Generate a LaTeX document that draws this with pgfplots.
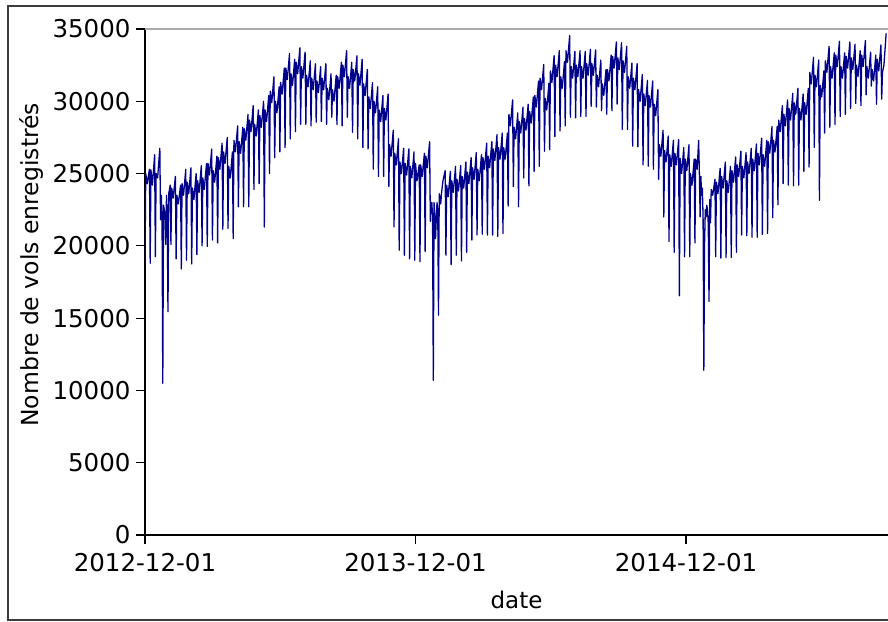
\documentclass[border=0pt]{standalone}
\usepackage{pgfplots}
\pgfplotsset{compat=1.18}
\usepackage{fontspec}
\setmainfont{DejaVu Sans}
\definecolor{lineblue}{RGB}{0,0,139}
\definecolor{framegray}{RGB}{60,60,60}
\definecolor{spinegray}{RGB}{170,170,170}
\begin{document}
\begin{tikzpicture}
\begin{axis}[
  scale only axis, width=743pt, height=506pt,
  xmin=0, xmax=1002.5, ymin=0, ymax=35000,
  axis x line*=bottom, axis y line*=left,
  axis line style={black, line width=1.2pt},
  tick align=outside, major tick length=9pt,
  tick style={black, line width=1.2pt},
  xtick={0,365,730}, xticklabels={2012-12-01,2013-12-01,2014-12-01},
  ytick={0,5000,10000,15000,20000,25000,30000,35000},
  scaled y ticks=false,
  /pgf/number format/.cd, 1000 sep={}, assume math mode=true, /pgfplots/.cd,
  tick label style={font=\fontsize{24.5}{29}\selectfont},
  xticklabel style={yshift=-6pt},
  yticklabel style={xshift=-2pt},
  xlabel={date}, ylabel={Nombre de vols enregistrés},
  xlabel style={font=\fontsize{23}{27}\selectfont, at={(axis description cs:0.5,-0.1443)}, anchor=base},
  ylabel style={font=\fontsize{23.5}{28}\selectfont, at={(axis description cs:-0.144,0.534)}, anchor=base, rotate=0},
  clip=true,
]
\addplot[lineblue, line width=1.3pt, line join=round] coordinates {
(0,18800)(1,25000)(3,24300)(6,25300)
(7,18800)(8,25250)(10,24200)(13,26300)
(14,19250)(15,25000)(17,24700)(20,26750)
(21,21800)(22,23500)(23,22000)(24,10500)(25,22800)(27,22200)
(28,20100)(29,23500)(30,22200)(31,15450)(32,23600)(34,24200)
(35,20100)(36,24000)(38,23300)(41,24800)
(42,19100)(43,23500)(45,22900)(48,24200)
(49,18400)(50,24300)(52,23500)(55,25300)
(56,19000)(57,24400)(59,23600)(62,25400)
(63,18750)(64,24000)(66,23200)(69,25000)
(70,19400)(71,24500)(73,23700)(76,25550)
(77,20000)(78,24700)(80,23900)(83,25700)
(84,19950)(85,25700)(87,24900)(90,26700)
(91,20400)(92,25200)(94,24400)(97,26200)
(98,20200)(99,26100)(101,25300)(104,27100)
(105,21150)(106,26500)(108,25700)(111,27500)
(112,21200)(113,25500)(115,24700)(118,26500)
(119,20500)(120,27300)(122,26500)(125,28300)
(126,22700)(127,27200)(129,26400)(132,28200)
(133,22700)(134,28100)(136,27300)(139,29100)
(140,22700)(141,28700)(143,27900)(146,29700)
(147,23900)(148,28400)(150,27600)(153,29400)
(154,24300)(155,29000)(157,28200)(160,30000)
(161,21300)(162,29400)(164,28600)(167,30400)
(168,25000)(169,30700)(171,29900)(174,31700)
(175,26100)(176,30000)(178,29200)(181,31000)
(182,26500)(183,31300)(185,30500)(188,32300)
(189,26800)(190,32300)(192,31500)(195,33300)
(196,27400)(197,31900)(199,31100)(202,32900)
(203,27900)(204,32700)(206,31900)(209,33700)
(210,28400)(211,32400)(213,31600)(216,33400)
(217,28400)(218,31800)(220,31000)(223,32800)
(224,28300)(225,31600)(227,30800)(230,32600)
(231,28550)(232,31400)(234,30600)(237,32400)
(238,28600)(239,31600)(241,30800)(244,32600)
(245,28400)(246,30900)(248,30100)(251,31900)
(252,28900)(253,30800)(255,30000)(258,31800)
(259,28400)(260,31700)(262,30900)(265,32700)
(266,28300)(267,32500)(269,31700)(272,33500)
(273,28900)(274,31700)(276,30900)(279,32700)
(280,27850)(281,32200)(283,31400)(286,33150)
(287,27400)(288,31900)(290,31100)(293,32900)
(294,26800)(295,31200)(297,30400)(300,32200)
(301,26700)(302,30300)(304,29500)(307,31300)
(308,25300)(309,30000)(311,29200)(314,31000)
(315,24800)(316,29400)(318,28600)(321,30400)
(322,24800)(323,29500)(325,28700)(328,30500)
(329,24100)(330,27000)(332,26200)(335,28000)
(336,21300)(337,26400)(339,25600)(342,27400)
(343,19700)(344,25800)(346,25000)(349,26750)
(350,19350)(351,25700)(353,24900)(356,26700)
(357,19100)(358,25500)(360,24700)(363,26500)
(364,19000)(365,25700)(367,24500)(370,25600)
(371,18900)(372,25600)(374,24800)(377,26400)
(378,19600)(379,26200)(381,25400)(384,27200)
(385,21700)(386,23000)(387,23000)(388,22000)(389,10700)(390,23000)(391,22000)
(392,20500)(393,21900)(394,23000)(395,22500)(396,15200)(397,23600)(398,23300)
(399,22900)(400,23600)(402,24500)(405,25200)
(406,19350)(407,24200)(409,23400)(412,25150)
(413,18700)(414,24500)(416,23700)(419,25500)
(420,19350)(421,24600)(423,23800)(426,25550)
(427,18950)(428,24800)(430,24000)(433,25800)
(434,19550)(435,25100)(437,24300)(440,26100)
(441,20400)(442,25400)(444,24600)(447,26450)
(448,20750)(449,25300)(451,24500)(454,26300)
(455,20800)(456,26100)(458,25300)(461,27100)
(462,20750)(463,26200)(465,25400)(468,27200)
(469,20750)(470,26700)(472,25900)(475,27700)
(476,20650)(477,26800)(479,26000)(482,27800)
(483,20850)(484,26800)(486,26000)(489,27800)
(490,22750)(491,29100)(493,28300)(496,30100)
(497,24100)(498,28200)(500,27400)(503,29200)
(504,22700)(505,28600)(507,27800)(510,29600)
(511,24700)(512,28800)(514,28000)(517,29800)
(518,24150)(519,29300)(521,28500)(524,30300)
(525,25150)(526,30400)(528,29600)(531,31400)
(532,25500)(533,31600)(535,30800)(538,32550)
(539,26550)(540,30200)(542,29400)(545,31250)
(546,26650)(547,32100)(549,31300)(552,33150)
(553,27550)(554,32500)(556,31700)(559,33500)
(560,27950)(561,31700)(563,30900)(566,32750)
(567,28300)(568,33500)(570,32700)(573,34550)
(574,28900)(575,32400)(577,31600)(580,33450)
(581,28850)(582,32500)(584,31700)(587,33500)
(588,28950)(589,32400)(591,31600)(594,33450)
(595,28950)(596,32600)(598,31800)(601,33600)
(602,29650)(603,32600)(605,31800)(608,33550)
(609,29600)(610,31800)(612,31000)(615,32850)
(616,29350)(617,31200)(619,30400)(622,32200)
(623,29100)(624,32200)(626,31400)(629,33200)
(630,29350)(631,33100)(633,32300)(636,34100)
(637,29800)(638,33000)(640,32200)(643,34050)
(644,28050)(645,32800)(647,32000)(650,33800)
(651,28050)(652,31700)(654,30900)(657,32650)
(658,26900)(659,31600)(661,30800)(664,32600)
(665,26850)(666,30800)(668,30000)(671,31850)
(672,25600)(673,30500)(675,29700)(678,31450)
(679,25500)(680,30400)(682,29600)(685,31400)
(686,25300)(687,29800)(689,29000)(692,30800)
(693,24600)(694,27000)(696,26200)(699,28000)
(700,22000)(701,26600)(703,25800)(706,27600)
(707,20300)(708,26300)(710,25500)(713,27300)
(714,19550)(715,26400)(717,25600)(720,27350)
(721,16550)(722,26050)(724,25000)(727,26800)
(728,19250)(729,26000)(731,25200)(734,27000)
(735,19250)(736,25000)(738,24200)(741,26000)
(742,20200)(743,26000)(745,25300)(747,27300)(748,25000)
(749,22000)(750,24800)(751,23500)(752,24000)(753,22000)(754,11400)(755,20200)
(756,22500)(757,22000)(758,22800)(759,22500)(760,21500)(761,16150)(762,23200)
(763,21600)(764,23900)(766,23500)(769,24600)
(770,19250)(771,24400)(773,23600)(776,25350)
(777,19150)(778,24800)(780,24000)(783,25800)
(784,19200)(785,24500)(787,23700)(790,25500)
(791,19200)(792,25200)(794,24400)(797,26150)
(798,19550)(799,25600)(801,24800)(804,26550)
(805,20750)(806,25500)(808,24700)(811,26450)
(812,20700)(813,25800)(815,25000)(818,26750)
(819,20600)(820,26000)(822,25200)(825,27050)
(826,20600)(827,26400)(829,25600)(832,27450)
(833,20800)(834,26300)(836,25500)(839,27300)
(840,20850)(841,27200)(843,26400)(846,28250)
(847,21950)(848,27300)(850,26500)(853,28250)
(854,22850)(855,28700)(857,27900)(860,29700)
(861,24300)(862,29100)(864,28300)(867,30100)
(868,24200)(869,29500)(871,28700)(874,30550)
(875,24150)(876,29900)(878,29100)(881,30900)
(882,24200)(883,29500)(885,28700)(888,30500)
(889,25150)(890,29900)(892,29100)(895,30900)
(896,25450)(897,32000)(899,31200)(902,33050)
(903,26800)(904,31800)(906,31000)(909,32850)
(910,23150)(911,31100)(913,30300)(916,32100)
(917,27800)(918,32800)(920,32000)(923,33800)
(924,28200)(925,32400)(927,31600)(930,33350)
(931,28400)(932,33200)(934,32400)(937,34150)
(938,28950)(939,32400)(941,31600)(944,33350)
(945,29100)(946,33100)(948,32300)(951,34100)
(952,29500)(953,33000)(955,32200)(958,33950)
(959,29850)(960,32500)(962,31700)(965,33500)
(966,29700)(967,33200)(969,32400)(972,34200)
(973,30450)(974,32400)(976,31600)(979,33400)
(980,31050)(981,32200)(983,31400)(986,33200)
(987,29800)(988,32900)(990,32100)(993,33900)
(994,30150)(995,32000)(997,32500)(1000,34700)
};
\coordinate (ll) at (rel axis cs:0,0);
\draw[spinegray, line width=1.2pt] (rel axis cs:0,1) -- (rel axis cs:1,1);
\end{axis}
\draw[framegray, line width=1.3pt] ([xshift=760pt,yshift=529pt]ll) -- ([xshift=-137pt,yshift=529pt]ll) -- ([xshift=-137pt,yshift=-85pt]ll) -- ([xshift=760pt,yshift=-85pt]ll);
\pgfresetboundingbox
\path[use as bounding box] ([xshift=-145pt,yshift=-86pt]ll) rectangle ([xshift=743pt,yshift=535pt]ll);
\end{tikzpicture}
\end{document}
